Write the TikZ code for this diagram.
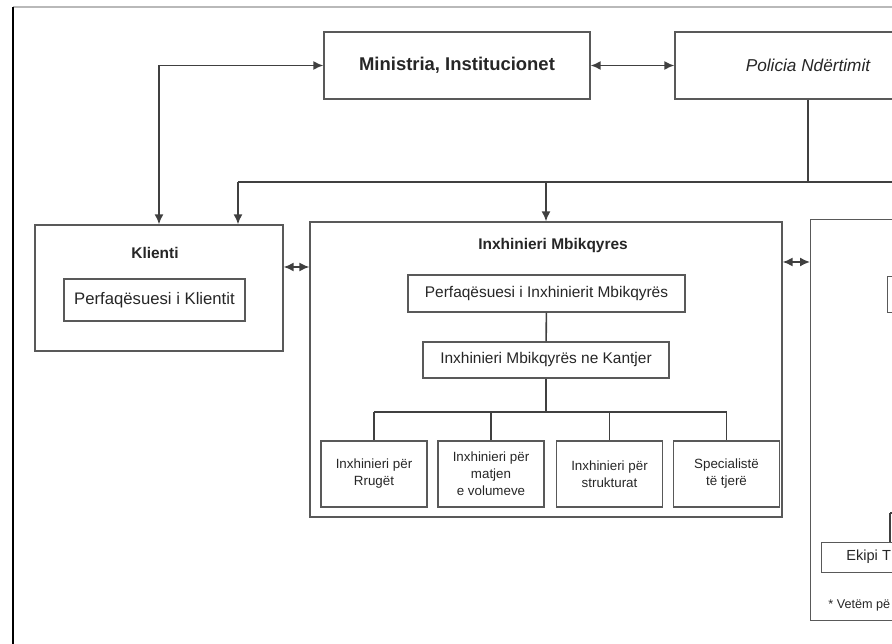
\documentclass[tikz,border=0pt]{standalone}
\usepackage{fontspec}
\setmainfont{Liberation Sans}
\usetikzlibrary{arrows.meta,positioning}

\begin{document}
\begin{tikzpicture}[x=0.02cm,y=-0.02cm,
  box/.style={draw=black!65, line width=0.8pt, inner sep=0pt, text=black!85, align=center},
  topbox/.style={box, minimum width=5.32cm, minimum height=1.34cm},
  subbox/.style={box, font=\fontsize{8.8}{10}\selectfont},
  kidbox/.style={box, line width=1.1pt, minimum width=2.12cm, minimum height=1.32cm, font=\fontsize{7.6}{9.7}\selectfont},
  title/.style={inner sep=0pt, text=black!85, font=\bfseries\fontsize{8.8}{10}\selectfont},
  link/.style={draw=black!75, line width=0.9pt},
  arr/.style={link, -{Latex[length=2mm,width=1.8mm]}},
  dbl/.style={link, {Latex[length=2mm,width=1.8mm]}-{Latex[length=2mm,width=1.8mm]}}]
  \useasboundingbox (0,0) rectangle (892,644);
  \clip (0,0) rectangle (892,644);

  % frame
  \draw[gray!55, line width=0.6pt] (13,7) -- (900,7);
  \draw[black, line width=1.2pt] (13,7) -- (13,650);

  % top row
  \node[topbox, font=\bfseries\fontsize{10.5}{12}\selectfont] (ministria) at (457,65.5) {Ministria, Institucionet};
  \node[topbox, font=\itshape\fontsize{9.8}{12}\selectfont] (policia) at (808,65.5) {Policia Ndërtimit};

  % client
  \node[box, minimum width=4.96cm, minimum height=2.52cm] (klienti) at (159,288) {};
  \node[title] (klientiTitle) at (155,253) {Klienti};
  \node[subbox, font=\fontsize{9.5}{11}\selectfont, minimum width=3.62cm, minimum height=0.84cm] (perfKlienti) at (154.5,300) {Perfaqësuesi i Klientit};

  % supervising engineer
  \node[box, minimum width=9.44cm, minimum height=5.9cm] (mbikqyres) at (546,369.5) {};
  \node[title] (mbikqyresTitle) at (553,246) {Inxhinieri Mbikqyres};
  \node[subbox, minimum width=5.54cm, minimum height=0.74cm] (perfMbik) at (546.5,293.5) {Perfaqësuesi i Inxhinierit Mbikqyrës};
  \node[subbox, minimum width=4.92cm, minimum height=0.72cm] (kantjer) at (546,360) {Inxhinieri Mbikqyrës ne Kantjer};

  \node[kidbox] (rruget) at (374,474) {Inxhinieri për\\Rrugët};
  \node[kidbox] (volumet) at (491,474) {Inxhinieri për\\matjen\\e volumeve};
  \node[kidbox] (strukturat) at (609.5,474) {Inxhinieri për\\strukturat};
  \node[kidbox] (specialiste) at (726.5,474) {Specialistë\\të tjerë};

  % third block (cut at the edge)
  \node[box, minimum width=5cm, minimum height=8.02cm, anchor=north west] (kutiaC) at (810,219) {};
  \node[box, minimum width=4cm, minimum height=0.72cm, anchor=north west] (kutiaCsub) at (887,276) {};
  \node[box, minimum width=5cm, minimum height=0.6cm, anchor=north west] (ekipi) at (821,542) {};
  \node[inner sep=0pt, anchor=west, text=black!85, font=\fontsize{8.3}{10}\selectfont] (ekipiText) at (846,557) {Ekipi T};
  \node[inner sep=0pt, anchor=west, text=black!85, font=\fontsize{7.2}{9}\selectfont] (shenim) at (828,605) {* Vetëm pë};

  % connectors
  \coordinate (busL) at (238,182);
  \coordinate (busR) at (900,182);
  \coordinate (ekipiBus) at (890,513);
  \draw[dbl] (ministria.east) -- (policia.west);
  \draw[dbl] (ministria.west) -| (klienti.north);
  \draw[link] (policia.south) -- (policia.south |- busL);
  \draw[link] (busL) -- (busR);
  \draw[arr] (busL) -- (busL |- klienti.north);
  \draw[arr] (mbikqyres.north |- busL) -- (mbikqyres.north);
  \draw[dbl] (klienti.east |- 0,267) -- (mbikqyres.west |- 0,267);
  \draw[dbl] (mbikqyres.east |- 0,262) -- (kutiaC.west |- 0,262);

  \draw[link] (perfMbik) -- (kantjer);
  \draw[link] (kantjer.south) -- (kantjer.south |- 0,412);
  \draw[link] (rruget.north |- 0,412) -- (specialiste.north |- 0,412);
  \foreach \k in {rruget,volumet,strukturat,specialiste}
    \draw[link] (\k.north |- 0,412) -- (\k.north);

  \draw[link] (ekipiBus) -- (ekipiBus -| busR);
  \draw[link] (ekipiBus) -- (ekipiBus |- ekipi.north);
\end{tikzpicture}
\end{document}
